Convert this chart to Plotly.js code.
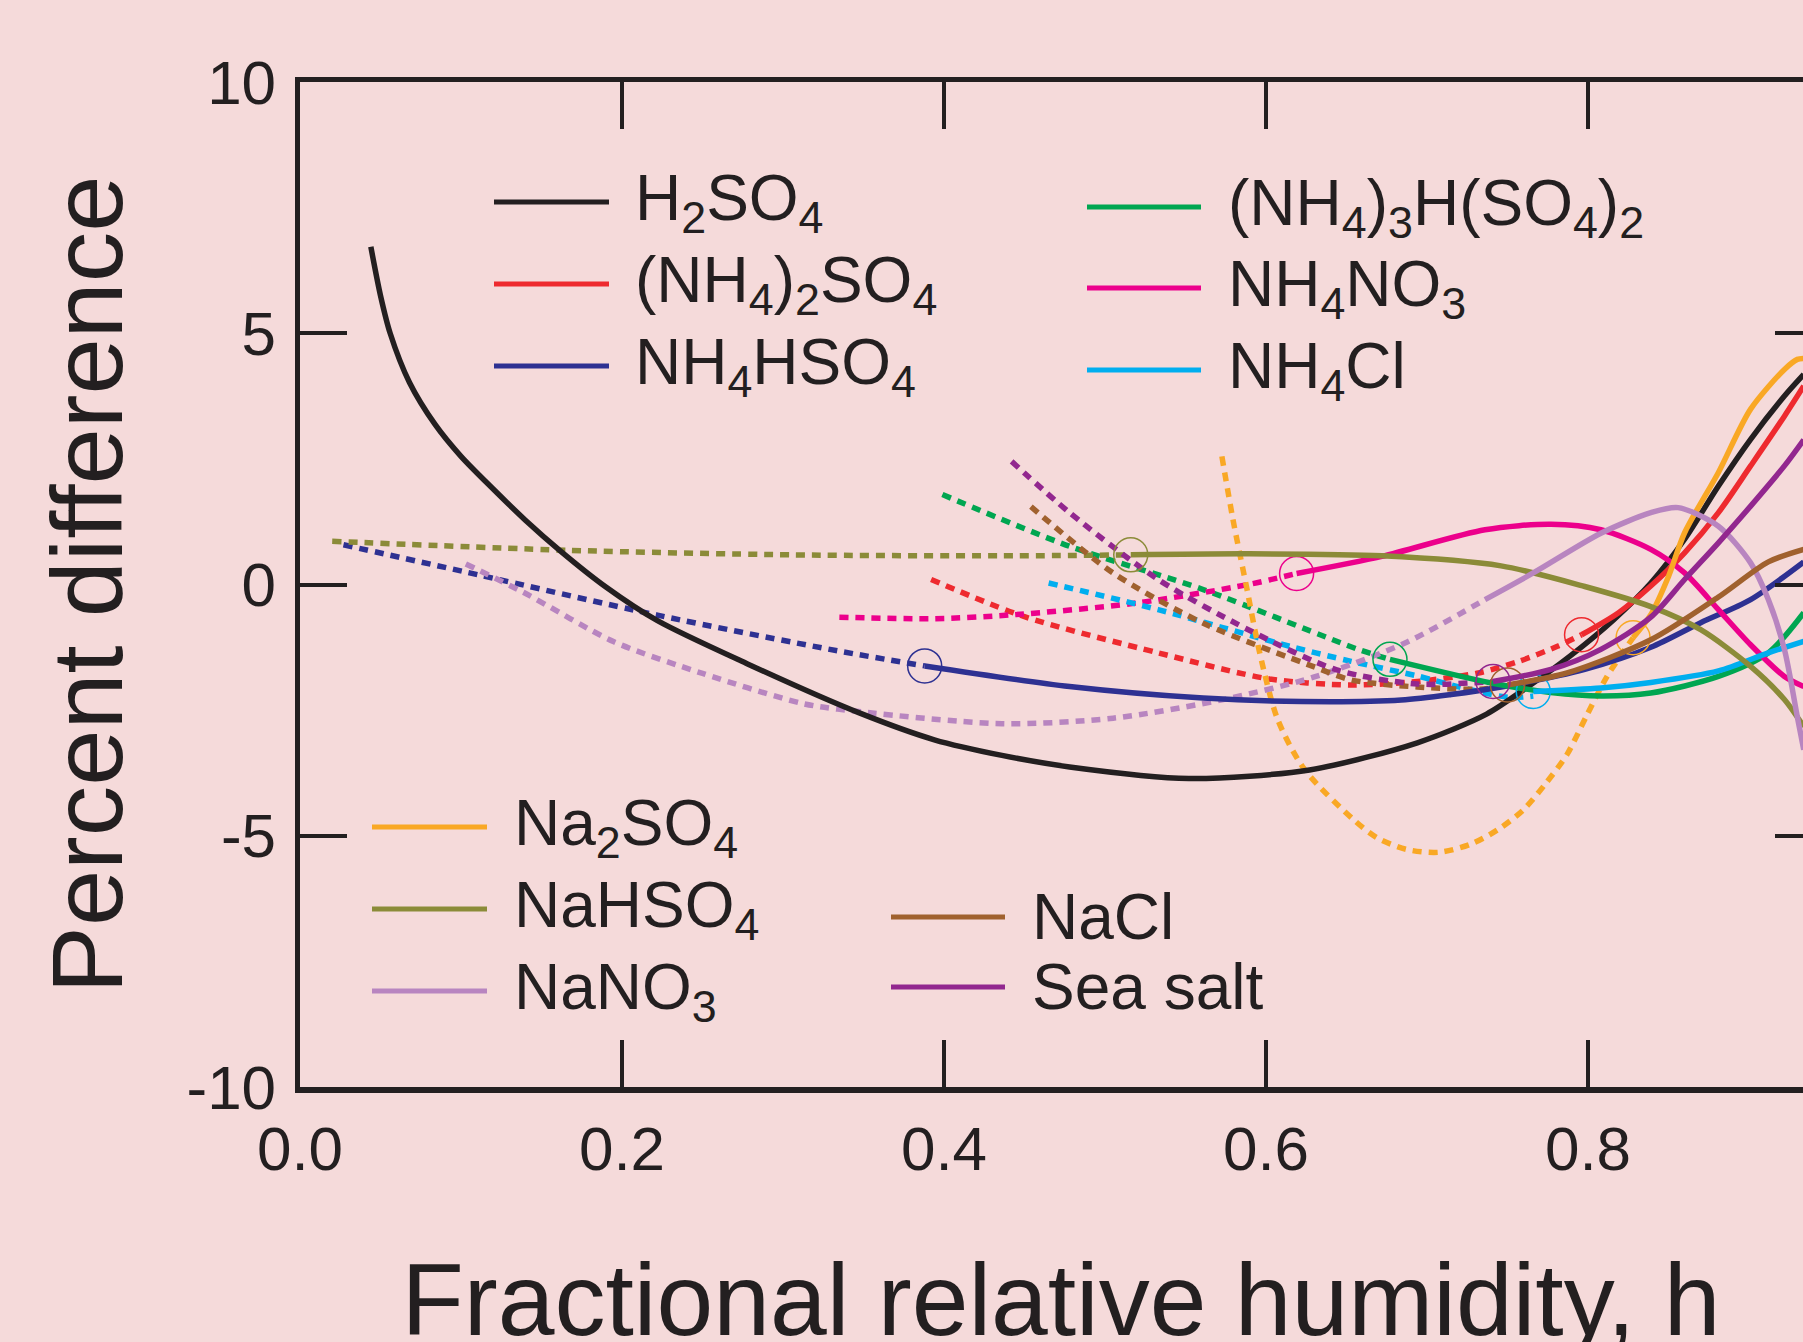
<!DOCTYPE html>
<html>
<head>
<meta charset="utf-8">
<script src="https://cdn.plot.ly/plotly-3.0.1.min.js"></script>
<style>
html,body{margin:0;padding:0;overflow:hidden;background:#F5DADA;}
#chart{width:1900px;height:1400px;}
</style>
</head>
<body>
<div id="chart"></div>
<script>
// ---------------- DATA ----------------
const seriesNames = ['H<sub>2</sub>SO<sub>4</sub>', '(NH<sub>4</sub>)<sub>2</sub>SO<sub>4</sub>', 'NH<sub>4</sub>HSO<sub>4</sub>',
  '(NH<sub>4</sub>)<sub>3</sub>H(SO<sub>4</sub>)<sub>2</sub>', 'NH<sub>4</sub>NO<sub>3</sub>', 'NH<sub>4</sub>Cl',
  'Na<sub>2</sub>SO<sub>4</sub>', 'NaHSO<sub>4</sub>', 'NaNO<sub>3</sub>', 'NaCl', 'Sea salt'];
const seriesColors = ['#231F20', '#EE2A2F', '#2E3192', '#00A651', '#EC008C', '#00AEEF',
  '#F9A825', '#8B8B38', '#B885C0', '#A0612E', '#92278F'];

const xTickVals = [0, 0.2, 0.4, 0.6, 0.8];
const xTickText = ['0.0', '0.2', '0.4', '0.6', '0.8'];
const yTickVals = [-10, -5, 0, 5, 10];
const yTickText = ['-10', '-5', '0', '5', '10'];

// H2SO4 (solid only)
const h2so4_x = [0.044, 0.050, 0.056, 0.068, 0.084, 0.100, 0.120, 0.140, 0.162, 0.190, 0.222, 0.278, 0.347, 0.394, 0.436, 0.478, 0.552, 0.627, 0.694, 0.737, 0.762, 0.789, 0.816, 0.839, 0.860, 0.881, 0.901, 0.922, 0.934];
const h2so4_y = [6.72, 5.75, 5.0, 4.02, 3.18, 2.55, 1.90, 1.28, 0.66, -0.05, -0.72, -1.58, -2.55, -3.09, -3.40, -3.63, -3.86, -3.69, -3.15, -2.58, -2.05, -1.42, -0.70, 0.03, 0.90, 1.96, 2.89, 3.75, 4.18];

// (NH4)2SO4
const nh42so4_dash_x = [0.392, 0.45, 0.533, 0.602, 0.653, 0.694, 0.732, 0.757, 0.781, 0.796];
const nh42so4_dash_y = [0.10, -0.64, -1.36, -1.88, -2.0, -1.93, -1.76, -1.53, -1.23, -1.0];
const nh42so4_x = [0.796, 0.819, 0.839, 0.860, 0.881, 0.901, 0.922, 0.934];
const nh42so4_y = [-1.0, -0.56, -0.03, 0.63, 1.43, 2.36, 3.35, 3.95];

// NH4HSO4
const nh4hso4_dash_x = [0.027, 0.111, 0.222, 0.334, 0.388];
const nh4hso4_dash_y = [0.79, 0.19, -0.61, -1.32, -1.62];
const nh4hso4_x = [0.388, 0.478, 0.561, 0.622, 0.684, 0.715, 0.746, 0.798, 0.839, 0.870, 0.901, 0.934];
const nh4hso4_y = [-1.62, -2.03, -2.26, -2.33, -2.30, -2.19, -2.04, -1.69, -1.25, -0.76, -0.30, 0.45];

// (NH4)3H(SO4)2
const letovicite_dash_x = [0.399, 0.478, 0.561, 0.658, 0.677];
const letovicite_dash_y = [1.79, 0.76, -0.10, -1.30, -1.49];
const letovicite_x = [0.677, 0.740, 0.777, 0.808, 0.839, 0.881, 0.912, 0.934];
const letovicite_y = [-1.49, -1.96, -2.15, -2.22, -2.16, -1.83, -1.36, -0.56];

// NH4NO3
const nh4no3_dash_x = [0.335, 0.394, 0.444, 0.519, 0.589, 0.619];
const nh4no3_dash_y = [-0.65, -0.68, -0.60, -0.37, 0.0, 0.22];
const nh4no3_x = [0.619, 0.672, 0.736, 0.777, 0.808, 0.839, 0.860, 0.881, 0.901, 0.922, 0.934];
const nh4no3_y = [0.22, 0.56, 1.09, 1.20, 1.09, 0.70, 0.23, -0.50, -1.20, -1.83, -2.03];

// NH4Cl
const nh4cl_dash_x = [0.465, 0.533, 0.616, 0.653, 0.694, 0.725, 0.752, 0.766];
const nh4cl_dash_y = [0.03, -0.50, -1.24, -1.53, -1.82, -2.08, -2.25, -2.22];
const nh4cl_x = [0.766, 0.808, 0.839, 0.881, 0.912, 0.934];
const nh4cl_y = [-2.13, -2.06, -1.95, -1.72, -1.36, -1.13];

// Na2SO4
const na2so4_dash_x = [0.5726, 0.5795, 0.5878, 0.5961, 0.6073, 0.6239, 0.6544, 0.669, 0.687, 0.707, 0.727, 0.744, 0.760, 0.774, 0.787, 0.799, 0.812, 0.828];
const na2so4_dash_y = [2.55, 1.29, -0.03, -1.36, -2.69, -3.68, -4.68, -5.04, -5.27, -5.33, -5.17, -4.88, -4.48, -3.95, -3.38, -2.62, -1.82, -1.06];
const na2so4_x = [0.828, 0.839, 0.850, 0.860, 0.881, 0.901, 0.922, 0.930, 0.934];
const na2so4_y = [-1.06, -0.6, 0.16, 1.03, 2.23, 3.49, 4.28, 4.48, 4.50];

// NaHSO4
const nahso4_dash_x = [0.02, 0.167, 0.306, 0.436, 0.516];
const nahso4_dash_y = [0.86, 0.68, 0.59, 0.57, 0.59];
const nahso4_x = [0.516, 0.588, 0.672, 0.746, 0.798, 0.839, 0.870, 0.901, 0.922, 0.934];
const nahso4_y = [0.59, 0.61, 0.57, 0.37, -0.04, -0.44, -0.90, -1.63, -2.29, -2.83];

// NaNO3 (no circle)
const nano3_dash_x = [0.103, 0.139, 0.195, 0.25, 0.311, 0.334, 0.436, 0.505, 0.575, 0.63, 0.686, 0.736];
const nano3_dash_y = [0.41, -0.16, -1.14, -1.77, -2.36, -2.48, -2.77, -2.66, -2.28, -1.84, -1.17, -0.30];
const nano3_x = [0.736, 0.766, 0.808, 0.839, 0.856, 0.881, 0.901, 0.912, 0.922, 0.930, 0.934];
const nano3_y = [-0.30, 0.23, 1.02, 1.43, 1.53, 1.16, 0.43, -0.30, -1.29, -2.63, -3.29];

// NaCl
const nacl_dash_x = [0.454, 0.505, 0.561, 0.630, 0.653, 0.694, 0.735, 0.750];
const nacl_dash_y = [1.55, 0.23, -0.77, -1.64, -1.90, -2.04, -2.08, -2.0];
const nacl_x = [0.750, 0.787, 0.839, 0.881, 0.912, 0.934];
const nacl_y = [-2.0, -1.76, -1.1, -0.25, 0.45, 0.70];

// Sea salt
const seasalt_dash_x = [0.442, 0.478, 0.533, 0.589, 0.644, 0.694, 0.741];
const seasalt_dash_y = [2.45, 1.43, 0.10, -0.90, -1.70, -1.98, -1.93];
const seasalt_x = [0.741, 0.777, 0.808, 0.839, 0.860, 0.881, 0.901, 0.922, 0.934];
const seasalt_y = [-1.93, -1.69, -1.29, -0.65, 0.1, 0.83, 1.56, 2.36, 2.88];

// ---------------- BUILD ----------------
const series = [
  {dx: null, dy: null, x: h2so4_x, y: h2so4_y, circle: false},
  {dx: nh42so4_dash_x, dy: nh42so4_dash_y, x: nh42so4_x, y: nh42so4_y, circle: true},
  {dx: nh4hso4_dash_x, dy: nh4hso4_dash_y, x: nh4hso4_x, y: nh4hso4_y, circle: true},
  {dx: letovicite_dash_x, dy: letovicite_dash_y, x: letovicite_x, y: letovicite_y, circle: true},
  {dx: nh4no3_dash_x, dy: nh4no3_dash_y, x: nh4no3_x, y: nh4no3_y, circle: true},
  {dx: nh4cl_dash_x, dy: nh4cl_dash_y, x: nh4cl_x, y: nh4cl_y, circle: true},
  {dx: na2so4_dash_x, dy: na2so4_dash_y, x: na2so4_x, y: na2so4_y, circle: true},
  {dx: nahso4_dash_x, dy: nahso4_dash_y, x: nahso4_x, y: nahso4_y, circle: true},
  {dx: nano3_dash_x, dy: nano3_dash_y, x: nano3_x, y: nano3_y, circle: false},
  {dx: nacl_dash_x, dy: nacl_dash_y, x: nacl_x, y: nacl_y, circle: true},
  {dx: seasalt_dash_x, dy: seasalt_dash_y, x: seasalt_x, y: seasalt_y, circle: true}
];

const FONT = '"Liberation Sans", Arial, Helvetica, sans-serif';
const INK = '#231F20';
const BG = '#F5DADA';
const LW = 5.5;

const traces = [];
series.forEach((s, i) => {
  const c = seriesColors[i];
  if (s.dx) {
    traces.push({x: s.dx, y: s.dy, type: 'scatter', mode: 'lines', name: seriesNames[i] + ' (extrapolated)',
      line: {color: c, width: LW, dash: '9px,7px', shape: 'spline', smoothing: 0.8}, showlegend: false, hoverinfo: 'skip'});
  }
});
series.forEach((s, i) => {
  const c = seriesColors[i];
  traces.push({x: s.x, y: s.y, type: 'scatter', mode: 'lines', name: seriesNames[i],
    line: {color: c, width: LW, shape: 'spline', smoothing: 0.8}, showlegend: false});
  if (s.circle) {
    traces.push({x: [s.x[0]], y: [s.y[0]], type: 'scatter', mode: 'markers', name: seriesNames[i] + ' transition',
      marker: {symbol: 'circle-open', size: 34, color: c, line: {color: c, width: 1.5}}, showlegend: false});
  }
});

// plot-area geometry in page pixels (for the hand-drawn legend); figure is taller than the window and gets cropped
const W = 1900, H = 1400;
const L = 300, T = 82, R = 1822, B = 1087;
const px = v => (v - L) / (R - L);
const py = v => (B - v) / (B - T);

// legend groups: indices, line x-range, text x, row y's
const legendGroups = [
  {idx: [0, 1, 2], x0: 494, x1: 609, tx: 633, ys: [202, 284, 366]},
  {idx: [3, 4, 5], x0: 1087, x1: 1201, tx: 1226, ys: [207, 288, 370]},
  {idx: [6, 7, 8], x0: 372, x1: 487, tx: 512, ys: [827, 909, 991]},
  {idx: [9, 10], x0: 891, x1: 1005, tx: 1030, ys: [917, 987]}
];
const shapes = [];
const annotations = [];
legendGroups.forEach(g => {
  g.idx.forEach((k, j) => {
    shapes.push({type: 'line', xref: 'paper', yref: 'paper', x0: px(g.x0), x1: px(g.x1), y0: py(g.ys[j]), y1: py(g.ys[j]),
      line: {color: seriesColors[k], width: 5}});
    annotations.push({xref: 'paper', yref: 'paper', x: px(g.tx), y: py(g.ys[j]), xanchor: 'left', yanchor: 'middle',
      text: seriesNames[k], showarrow: false, font: {family: FONT, size: 64, color: INK}});
  });
});

const axisCommon = {
  showgrid: false, zeroline: false, showline: true, linecolor: INK, linewidth: 5.5,
  mirror: 'ticks', ticks: 'inside', ticklen: 47, tickwidth: 4, tickcolor: INK,
  tickfont: {family: FONT, size: 62, color: INK}, fixedrange: true
};

const layout = {
  width: W, height: H,
  paper_bgcolor: BG, plot_bgcolor: BG,
  margin: {l: L, r: W - R, t: T, b: H - B},
  showlegend: false,
  font: {family: FONT, color: INK},
  xaxis: Object.assign({}, axisCommon, {
    range: [0, (R - L) / 1610], tickmode: 'array', tickvals: xTickVals, ticktext: xTickText,
    ticklabelstandoff: 3,
    title: {text: 'Fractional relative humidity, h', font: {family: FONT, size: 102, color: INK}, standoff: 83}
  }),
  yaxis: Object.assign({}, axisCommon, {
    range: [-10, 10], tickmode: 'array', tickvals: yTickVals, ticktext: yTickText,
    ticklabelstandoff: 6,
    title: {text: 'Percent difference', font: {family: FONT, size: 101, color: INK}, standoff: 32}
  }),
  shapes: shapes,
  annotations: annotations
};

Plotly.newPlot('chart', traces, layout, {displayModeBar: false, staticPlot: true});
</script>
</body>
</html>
